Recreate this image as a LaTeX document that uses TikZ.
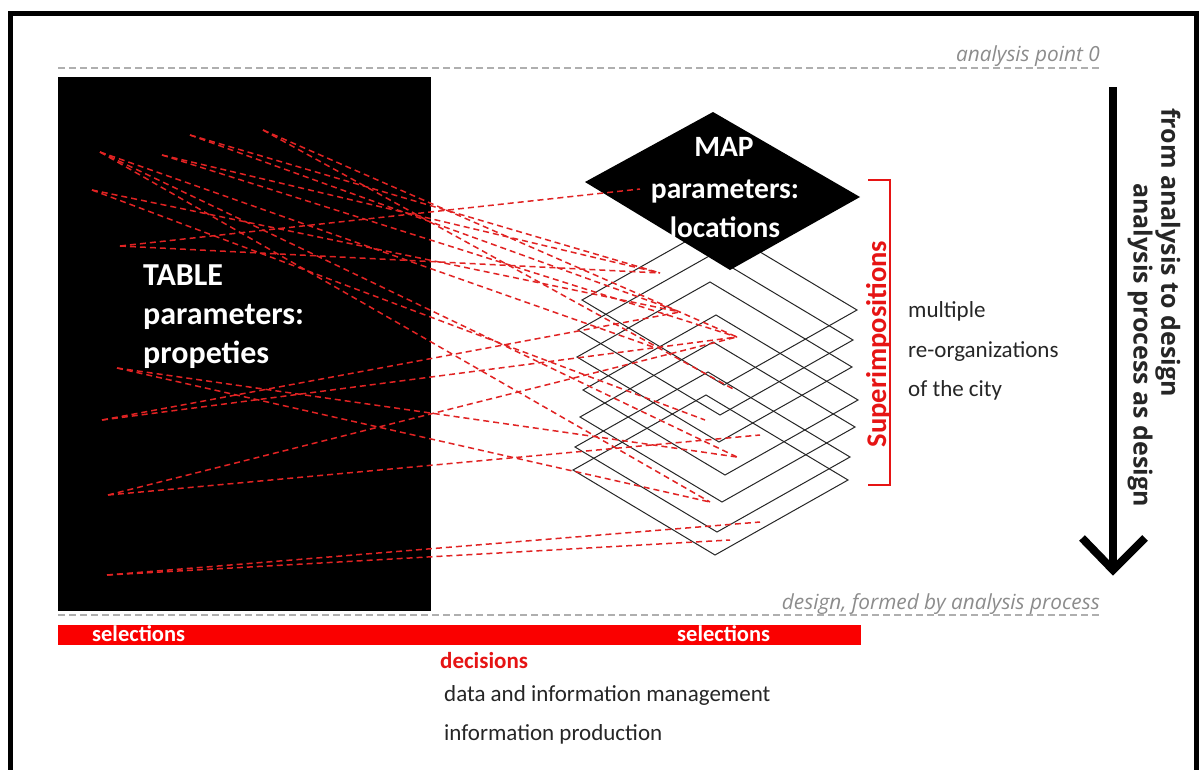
\documentclass[tikz,border=0pt]{standalone}
\usepackage{fontspec}
\setmainfont{Carlito}
\newfontfamily\osans{Open Sans}
\definecolor{dashred}{RGB}{225,35,35}
\definecolor{barred}{RGB}{250,0,0}
\definecolor{txtred}{RGB}{230,20,20}
\definecolor{lgray}{RGB}{175,175,175}
\definecolor{tgray}{RGB}{140,140,140}
\tikzset{
  reddash/.style={draw=dashred, line width=1.5pt, dash pattern=on 6pt off 4pt},
  grayline/.style={draw=lgray, line width=1.5pt, dash pattern=on 7pt off 4pt},
  dia/.style={draw=black!85, line width=1pt},
  graylbl/.style={font=\osans\itshape\fontsize{20.8}{20.8}\selectfont, text=tgray, inner sep=0pt},
  bigwhite/.style={font=\fontsize{32}{32}\selectfont\bfseries, text=white, inner sep=0pt},
  mapwhite/.style={font=\fontsize{29.5}{29.5}\selectfont\bfseries, text=white, inner sep=0pt},
  seltxt/.style={font=\fontsize{22.5}{22.5}\selectfont\bfseries, text=white, inner sep=0pt},
  plain/.style={font=\fontsize{23}{23}\selectfont, text=black!85, inner sep=0pt},
  redbold/.style={font=\fontsize{23}{23}\selectfont\bfseries, text=txtred, inner sep=0pt},
  vtxt/.style={font=\osans\bfseries\fontsize{25}{25}\selectfont, text=black!85, inner sep=0pt, rotate=-90},
}
\begin{document}
\begin{tikzpicture}[x=1pt,y=-1pt]
\useasboundingbox[fill=white] (0,0) rectangle (1201,769);
% frame
\draw[line width=5pt] (10,780) -- (10,13) -- (1196,13) -- (1196,780);

% gray dashed reference lines
\coordinate (g1a) at (58,68);  \coordinate (g1b) at (1100,68);
\coordinate (g2a) at (58,615); \coordinate (g2b) at (1100,615);
\draw[grayline] (g1a) -- (g1b);
\draw[grayline] (g2a) -- (g2b);
\node[graylbl, anchor=base east] (lbl0) at (1100,61) {analysis point 0};
\node[graylbl, anchor=base east] (lbl1) at (1100,609) {design, formed by analysis process};

% black table block
\node[fill=black, minimum width=373pt, minimum height=534pt, anchor=north west, inner sep=0pt] (table) at (58,77) {};

% stack of outline diamonds
\foreach \tx/\ty in {715/225, 711/255, 710/282, 716/315, 713/342, 708/372, 706/395}
  \draw[dia] (\tx,\ty) -- ++(142,85) -- ++(-133,75) -- ++(-142,-85) -- cycle;

% black MAP diamond
\fill[black] (713,112) -- (860,197) -- (730,270) -- (585,182) -- cycle;

% red dashed connections
\coordinate (A) at (100,152);
\coordinate (B) at (92,190);
\coordinate (C) at (162,155);
\coordinate (D) at (190,135);
\coordinate (E) at (263,130);
\coordinate (F) at (120,246);
\coordinate (G) at (117,368);
\coordinate (H) at (102,420);
\coordinate (I) at (108,495);
\coordinate (J) at (107,575);
\coordinate (P1) at (640,189);
\coordinate (P2) at (660,273);
\coordinate (P3) at (680,312);
\coordinate (P4) at (737,337);
\coordinate (P5) at (653,347);
\coordinate (P6) at (705,420);
\coordinate (P7) at (737,457);
\coordinate (P8) at (710,502);
\coordinate (P9) at (760,522);
\coordinate (P10) at (730,540);
\coordinate (P12) at (735,390);
\coordinate (P13) at (760,435);
\draw[reddash] (A) -- (P7);
\draw[reddash] (A) -- (P8);
\draw[reddash] (A) -- (P5);
\draw[reddash] (B) -- (P3);
\draw[reddash] (B) -- (P6);
\draw[reddash] (C) -- (P2);
\draw[reddash] (C) -- (P4);
\draw[reddash] (D) -- (P2);
\draw[reddash] (D) -- (P3);
\draw[reddash] (E) -- (P4);
\draw[reddash] (E) -- (P12);
\draw[reddash] (F) -- (P1);
\draw[reddash] (F) -- (P2);
\draw[reddash] (G) -- (P7);
\draw[reddash] (G) -- (P8);
\draw[reddash] (H) -- (P4);
\draw[reddash] (H) -- (P3);
\draw[reddash] (I) -- (P4);
\draw[reddash] (I) -- (P13);
\draw[reddash] (J) -- (P9);
\draw[reddash] (J) -- (P10);

% table text
\node[bigwhite, anchor=base west] (t1) at (143,285) {TABLE};
\node[bigwhite, anchor=base west] (t2) at (143,324) {parameters:};
\node[bigwhite, anchor=base west] (t3) at (143,363) {propeties};

% map text
\node[mapwhite, anchor=base] (m1) at (724,156) {MAP};
\node[mapwhite, anchor=base] (m2) at (725,198) {parameters:};
\node[mapwhite, anchor=base] (m3) at (725,237) {locations};

% superimpositions bracket
\coordinate (br1) at (868,180); \coordinate (br2) at (890,180);
\coordinate (br3) at (890,485); \coordinate (br4) at (868,485);
\draw[txtred, line width=1.2pt] (br1) -- (br2) -- (br3) -- (br4);
\node[font=\fontsize{28.5}{28.5}\selectfont\bfseries, text=txtred, inner sep=0pt, rotate=90, anchor=base] (sup) at (886,344) {Superimpositions};

% right side texts
\node[plain, anchor=base west] (r1) at (908,317) {multiple};
\node[plain, anchor=base west] (r2) at (908,357) {re-organizations};
\node[plain, anchor=base west] (r3) at (908,396) {of the city};

% big arrow
\coordinate (ar1) at (1113,87); \coordinate (ar2) at (1113,568);
\coordinate (al) at (1082,538); \coordinate (arr) at (1145,538);
\draw[line width=8pt] (ar1) -- (ar2);
\draw[line width=8pt, line join=miter] (al) -- (1113,570) -- (arr);
\node[vtxt, anchor=west] (v1) at (1168,108) {from analysis to design};
\node[vtxt, anchor=west] (v2) at (1140,183) {analysis process as design};

% red bar
\fill[barred] (58,625) rectangle (861,645);
\node[seltxt, anchor=base west] (s1) at (92,641) {selections};
\node[seltxt, anchor=base west] (s2) at (677,641) {selections};
\node[redbold, anchor=base west] (dec) at (440,668) {decisions};
\node[plain, anchor=base west] (b1) at (444,701) {data and information management};
\node[plain, anchor=base west] (b2) at (444,740) {information production};
\end{tikzpicture}
\end{document}
